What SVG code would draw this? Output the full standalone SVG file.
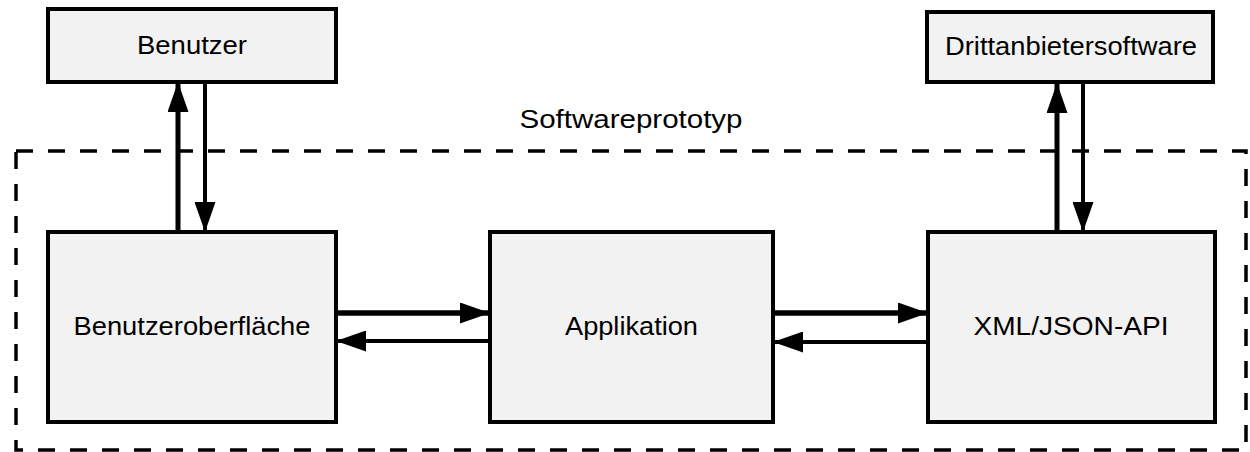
<svg xmlns="http://www.w3.org/2000/svg" width="1250" height="452" viewBox="0 0 1250 452">
<style>
.box{fill:#f2f2f2;stroke:#000;stroke-width:4}
.lbl{font-family:"Liberation Sans",Arial,sans-serif;font-size:26px;fill:#000;text-anchor:middle}
.frame{fill:none;stroke:#000;stroke-width:3.5;stroke-dasharray:17 15}
.c{stroke:#000;fill:none}
</style>
<defs>
<marker id="ah" markerUnits="userSpaceOnUse" viewBox="0 0 30 21" markerWidth="30" markerHeight="21" refX="30" refY="10.5" orient="auto">
<path d="M0,0 L30,10.5 L0,21 z" fill="#000"/>
</marker>
</defs>
<g id="frame">
<rect class="frame" x="16" y="151" width="1230" height="299"/>
<text class="lbl" x="631" y="128" textLength="223" lengthAdjust="spacingAndGlyphs">Softwareprototyp</text>
</g>
<g id="benutzer">
<rect class="box" x="48" y="9" width="288" height="73"/>
<text class="lbl" x="192" y="54" textLength="110" lengthAdjust="spacingAndGlyphs">Benutzer</text>
</g>
<g id="drittanbieter">
<rect class="box" x="927" y="12" width="286" height="70"/>
<text class="lbl" x="1071" y="55" textLength="252" lengthAdjust="spacingAndGlyphs">Drittanbietersoftware</text>
</g>
<g id="ui">
<rect class="box" x="48" y="232" width="288" height="190"/>
<text class="lbl" x="192" y="335" textLength="237" lengthAdjust="spacingAndGlyphs">Benutzeroberfläche</text>
</g>
<g id="app">
<rect class="box" x="490" y="232" width="283" height="190"/>
<text class="lbl" x="631.5" y="335" textLength="133" lengthAdjust="spacingAndGlyphs">Applikation</text>
</g>
<g id="api">
<rect class="box" x="928" y="232" width="287" height="190"/>
<text class="lbl" x="1071" y="335" textLength="195" lengthAdjust="spacingAndGlyphs">XML/JSON-API</text>
</g>
<g id="connectors">
<line class="c" x1="178" y1="232" x2="178" y2="82" stroke-width="5" marker-end="url(#ah)"/>
<line class="c" x1="205" y1="82" x2="205" y2="232" stroke-width="4" marker-end="url(#ah)"/>
<line class="c" x1="1057" y1="232" x2="1057" y2="83" stroke-width="5" marker-end="url(#ah)"/>
<line class="c" x1="1083" y1="83" x2="1083" y2="232" stroke-width="4" marker-end="url(#ah)"/>
<line class="c" x1="336" y1="313" x2="490" y2="313" stroke-width="5.5" marker-end="url(#ah)"/>
<line class="c" x1="490" y1="341" x2="336" y2="341" stroke-width="4" marker-end="url(#ah)"/>
<line class="c" x1="773" y1="313" x2="928" y2="313" stroke-width="5.5" marker-end="url(#ah)"/>
<line class="c" x1="928" y1="342" x2="773" y2="342" stroke-width="4" marker-end="url(#ah)"/>
</g>
</svg>
